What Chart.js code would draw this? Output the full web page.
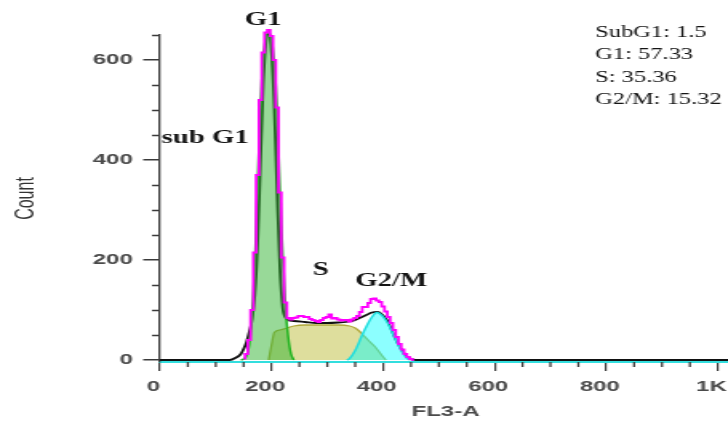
<!DOCTYPE html>
<html>
<head>
<meta charset="utf-8">
<title>Cell cycle FL3-A histogram</title>
<script src="https://cdn.jsdelivr.net/npm/chart.js@4.4.1/dist/chart.umd.min.js"></script>
<style>
  html, body { margin: 0; padding: 0; background: #fff; overflow: hidden; }
  /* the source figure is stretched sideways, so draw it narrow and widen it */
  #wrap { position: relative; width: 475px; height: 426px; transform: scaleX(1.6); transform-origin: 0 0; }
</style>
</head>
<body>
<div id="wrap"><canvas id="cycleChart"></canvas></div>
<script>
// raw FL3-A histogram (magenta trace)
const histChannels = [150, 155, 160, 165, 170, 175, 180, 185, 190, 195, 200, 205, 210, 215, 220, 225,
  230, 235, 240, 245, 250, 255, 260, 265, 270, 275, 280, 285, 290, 295, 300, 305, 310, 315, 320, 325,
  330, 335, 340, 345, 350, 355, 360, 365, 370, 375, 380, 385, 390, 395, 400, 405, 410, 415, 420, 425,
  430, 435, 440, 445, 450, 455];
const histCounts = [3, 12, 40, 100, 215, 370, 520, 615, 655, 660, 648, 600, 505, 335, 205, 115,
  84, 81, 84, 85, 88, 88, 86, 86, 82, 80, 78, 76, 80, 84, 86, 91, 83, 84, 81, 79,
  80, 80, 77, 81, 84, 88, 96, 106, 106, 114, 122, 123, 119, 116, 107, 97, 86, 74, 60, 46,
  32, 21, 12, 6, 2, 0];

// fitted G1 peak (green)
const g1Channels = [145, 150, 155, 160, 165, 170, 175, 180, 185, 190, 195, 200, 205, 210, 215, 220, 225, 230, 235, 240];
const g1Counts = [0, 2, 8, 30, 90, 190, 350, 500, 600, 645, 655, 640, 590, 500, 340, 210, 105, 45, 12, 0];

// fitted S phase (yellow)
const sChannels = [195, 200, 205, 215, 225, 240, 260, 280, 300, 320, 340, 350, 356, 365, 374, 386, 398, 405];
const sCounts = [0, 30, 55, 60, 63, 68, 70, 70, 70, 70, 68, 64, 59, 49, 39, 26, 9, 0];

// fitted G2/M peak (cyan)
const g2Channels = [335, 340, 350, 356, 362, 371, 380, 389, 398, 407, 416, 425, 434, 443, 449];
const g2Counts = [0, 3, 19, 33, 49, 69, 86, 95, 89, 76, 57, 36, 16, 3, 0];

// overall model (black)
const fitChannels = [0, 125, 135, 145, 150, 155, 160, 165, 170, 175, 180, 185, 190, 195, 200, 205, 210, 215,
  220, 225, 230, 240, 260, 280, 300, 320, 340, 350, 360, 370, 380, 390, 400, 407, 413, 419, 425, 431,
  437, 443, 449, 458, 1024];
const fitCounts = [0, 0, 4, 12, 22, 35, 55, 80, 130, 230, 390, 550, 635, 652, 615, 505, 335, 185,
  105, 85, 80, 78, 76, 74, 74, 75, 77, 80, 85, 90, 95, 96, 89, 80, 66, 50, 36, 24,
  14, 7, 3, 0, 0];

// population percentages shown top right
const phaseNames = ['SubG1', 'G1', 'S', 'G2/M'];
const phasePercents = ['1.5', '57.33', '35.36', '15.32'];

const xTickValues = [0, 200, 400, 600, 800, 1000];

const axisColor = '#3a3a3a';
const labelColor = '#4a4a4a';
const sansFamily = '"Liberation Sans", Arial, sans-serif';
const serifFamily = '"Liberation Serif", "Times New Roman", serif';

function toPoints(xs, ys) {
  return xs.map((x, i) => ({ x: x, y: ys[i] }));
}

// short ticks every 50 between the labelled ones
const minorTicks = {
  id: 'minorTicks',
  afterDraw(chart) {
    const { ctx, chartArea, scales } = chart;
    ctx.save();
    ctx.strokeStyle = axisColor;
    ctx.lineWidth = 1.3;
    ctx.beginPath();
    for (let v = 50; v <= 650; v += 50) {
      if (v % 200 === 0) continue;
      const py = Math.round(scales.y.getPixelForValue(v)) + 0.5;
      ctx.moveTo(chartArea.left - 5, py);
      ctx.lineTo(chartArea.left, py);
    }
    for (let v = 50; v <= 1000; v += 50) {
      if (v % 200 === 0) continue;
      const px = scales.x.getPixelForValue(v);
      ctx.moveTo(px, chartArea.bottom);
      ctx.lineTo(px, chartArea.bottom + 5);
    }
    ctx.stroke();
    ctx.restore();
  }
};

// phase names over the peaks and the percentages box
const phaseLabels = {
  id: 'phaseLabels',
  afterDatasetsDraw(chart) {
    const { ctx } = chart;
    ctx.save();
    ctx.fillStyle = '#141414';
    ctx.textBaseline = 'alphabetic';
    ctx.textAlign = 'left';
    ctx.font = 'bold 18px ' + serifFamily;
    ctx.fillText('G1', 153, 25);
    ctx.fillText('sub G1', 101, 143);
    ctx.fillText('S', 195.5, 275);
    ctx.fillText('G2/M', 222, 286);

    ctx.font = '17px ' + serifFamily;
    ctx.translate(372, 0);
    ctx.scale(0.9, 1);
    phaseNames.forEach((name, i) => {
      ctx.fillText(name + ': ' + phasePercents[i], 0, 36.5 + i * 22.5);
    });
    ctx.restore();
  }
};

const fitStyle = {
  pointRadius: 0,
  cubicInterpolationMode: 'monotone',
  clip: false
};

new Chart(document.getElementById('cycleChart').getContext('2d'), {
  type: 'line',
  data: {
    datasets: [
      {
        label: 'Data',
        data: toPoints(histChannels, histCounts),
        borderColor: '#ff00ff',
        borderWidth: 1.8,
        stepped: 'middle',
        pointRadius: 0,
        fill: false,
        clip: false
      },
      Object.assign({
        label: 'G1',
        data: toPoints(g1Channels, g1Counts),
        borderColor: '#1fb31f',
        backgroundColor: 'rgba(50, 180, 50, 0.5)',
        borderWidth: 1.5,
        fill: 'origin'
      }, fitStyle),
      Object.assign({
        label: 'G2/M',
        data: toPoints(g2Channels, g2Counts),
        borderColor: '#1ddede',
        backgroundColor: 'rgba(0, 255, 255, 0.45)',
        borderWidth: 1.5,
        fill: 'origin'
      }, fitStyle),
      Object.assign({
        label: 'S',
        data: toPoints(sChannels, sCounts),
        borderColor: '#b0a83a',
        backgroundColor: 'rgba(190, 190, 60, 0.5)',
        borderWidth: 1.3,
        fill: 'origin'
      }, fitStyle),
      Object.assign({
        label: 'Fit',
        data: toPoints(fitChannels, fitCounts),
        borderColor: '#111111',
        borderWidth: 1.8,
        fill: false
      }, fitStyle)
    ]
  },
  options: {
    responsive: true,
    maintainAspectRatio: false,
    animation: false,
    layout: { padding: { top: 35, right: 18, bottom: 0, left: 0 } },
    scales: {
      x: {
        type: 'linear',
        min: 0,
        max: 1024,
        afterFit(scale) {
          scale.height = 64;
          scale.paddingLeft = 0;
          scale.paddingRight = 0;
        },
        afterBuildTicks(scale) {
          scale.ticks = xTickValues.map(v => ({ value: v }));
        },
        border: { color: '#33dede', width: 2 },
        grid: { drawOnChartArea: false, tickLength: 9, tickColor: axisColor, lineWidth: 1.2 },
        ticks: {
          autoSkip: false,
          maxRotation: 0,
          padding: 7,
          labelOffset: -4,
          color: labelColor,
          font: { family: sansFamily, size: 15, weight: 'bold' },
          callback: v => (v === 1000 ? '1K' : v)
        },
        title: {
          display: true,
          text: 'FL3-A',
          color: labelColor,
          font: { family: sansFamily, size: 15, weight: 'bold' },
          padding: { top: 0, bottom: 5 }
        }
      },
      y: {
        min: -4,
        max: 650,
        afterFit(scale) {
          scale.width = 100;
        },
        border: { color: axisColor, width: 1.3 },
        grid: { drawOnChartArea: false, tickLength: 10.5, tickColor: axisColor, lineWidth: 1.5 },
        ticks: {
          stepSize: 200,
          includeBounds: false,
          padding: 6.5,
          color: labelColor,
          font: { family: sansFamily, size: 15, weight: 'bold' }
        },
        title: {
          display: true,
          text: 'Count',
          color: '#333333',
          font: { family: sansFamily, size: 16 },
          padding: { top: 6.5, bottom: 0 }
        }
      }
    },
    plugins: {
      legend: { display: false },
      tooltip: { enabled: false }
    }
  },
  plugins: [minorTicks, phaseLabels]
});
</script>
</body>
</html>
